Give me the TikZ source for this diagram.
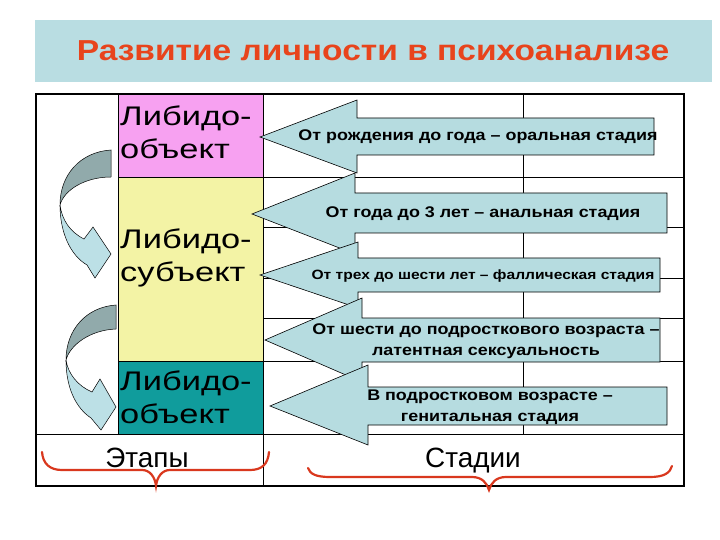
\documentclass[tikz,border=0pt]{standalone}
\usepackage{fontspec}
\setmainfont{Liberation Sans}[FakeStretch=1.16]
\newfontfamily\widefont{Liberation Sans}[FakeStretch=1.28]
\newfontfamily\plainfont{Liberation Sans}
\definecolor{bandblue}{HTML}{B9DDE2}
\definecolor{titlered}{HTML}{E8441C}
\definecolor{cellpink}{HTML}{F7A1F1}
\definecolor{cellyellow}{HTML}{F3F3A5}
\definecolor{cellteal}{HTML}{109C9C}
\definecolor{arrowblue}{HTML}{B6DCE0}
\definecolor{curvedark}{HTML}{91AAAB}
\definecolor{curvelight}{HTML}{BCE0E6}
\definecolor{bracered}{HTML}{D9381E}
\tikzset{
  stage/.style={draw, fill=arrowblue, line width=0.6bp},
  stagetext/.style={font=\bfseries\fontsize{15.5}{21}\selectfont, align=center, inner sep=0pt},
  libido/.style={font=\widefont\fontsize{27}{33}\selectfont, align=left, anchor=west, inner sep=0pt},
  bottomtext/.style={font=\plainfont\fontsize{28}{32}\selectfont, anchor=base, inner sep=0pt},
  grid/.style={draw, line width=0.6bp},
  curve/.style={draw, line width=0.5bp},
  brace/.style={draw=bracered, line width=2.2bp, line cap=round}
}
\begin{document}
\begin{tikzpicture}[x=1bp, y=-1bp]
\useasboundingbox (0,0) rectangle (720,540);
\fill[bandblue] (35,20) rectangle (712,82);
\node[text=titlered, font=\bfseries\fontsize{29}{32}\selectfont] (title) at (373,51) {Развитие личности в психоанализе};

\fill[cellpink] (118,94) rectangle (263,177);
\fill[cellyellow] (118,177) rectangle (263,361);
\fill[cellteal] (118,361) rectangle (263,434);

\path[grid] (118,94) -- (118,434);
\path[grid] (263,94) -- (263,486);
\path[grid] (523,94) -- (523,434);
\path[grid] (118,177) -- (684,177);
\path[grid] (263,227) -- (684,227);
\path[grid] (263,278) -- (684,278);
\path[grid] (263,318) -- (684,318);
\path[grid] (118,361) -- (684,361);
\path[grid] (36,434) -- (684,434);
\path[draw, line width=1.6bp] (36,94) rectangle (684,486);

\node[libido] (obj1) at (120,132) {Либидо-\\объект};
\node[libido] (subj) at (120,258) {Либидо-\\субъект};
\node[libido] (obj2) at (120,397) {Либидо-\\объект};

\path[curve, fill=curvedark] (111,150) .. controls (80,152) and (60,175) .. (60,205) .. controls (64,190) and (85,177) .. (111,177) -- cycle;
\path[curve, fill=curvelight] (60,205) .. controls (60,232) and (70,255) .. (87,265) -- (95,278) -- (111,254) -- (93,227) -- (84,239) .. controls (70,232) and (62,220) .. (60,205) -- cycle;
\path[curve, fill=curvedark] (116,305) .. controls (86,307) and (66,330) .. (66,360) .. controls (70,345) and (90,330) .. (116,329) -- cycle;
\path[curve, fill=curvelight] (66,360) .. controls (66,388) and (76,408) .. (91,418) -- (101,430) -- (116,407) -- (100,379) -- (92,392) .. controls (78,386) and (68,374) .. (66,360) -- cycle;

\path[stage] (260,137) -- (357,100) -- (357,118) -- (654,118) -- (654,155) -- (357,155) -- (357,173) -- cycle;
\path[stage] (252,214) -- (355,173) -- (355,193) -- (667,193) -- (667,233) -- (355,233) -- (355,254) -- cycle;
\path[stage] (260,275) -- (358,242) -- (358,258) -- (660,258) -- (660,292) -- (358,292) -- (358,308) -- cycle;
\path[stage] (265,340) -- (362,298) -- (362,318) -- (660,318) -- (660,362) -- (362,362) -- (362,382) -- cycle;
\path[stage] (270,406) -- (368,365) -- (368,387) -- (667,387) -- (667,425) -- (368,425) -- (368,445) -- cycle;

\node[stagetext] (oral) at (478,137) {От рождения до года – оральная стадия};
\node[stagetext] (anal) at (483,214) {От года до 3 лет – анальная стадия};
\node[stagetext, font=\bfseries\fontsize{13.5}{16}\selectfont] (phallic) at (483,276) {От трех до шести лет – фаллическая стадия};
\node[stagetext] (latent) at (486,341) {От шести до подросткового возраста –\\латентная сексуальность};
\node[stagetext] (genital) at (490,407) {В подростковом возрасте –\\генитальная стадия};

\node[bottomtext] (etapy) at (147,467) {Этапы};
\node[bottomtext] (stadii) at (473,467) {Стадии};

\path[brace] (42,452) .. controls (43,464) and (50,470) .. (62,470) -- (142,470) .. controls (150,470) and (155,477) .. (156,486) .. controls (157,477) and (162,470) .. (170,470) -- (250,470) .. controls (262,470) and (268,464) .. (269,452);
\path[brace] (308,468) .. controls (310,474) and (316,477) .. (330,477) -- (472,477) .. controls (482,477) and (487,483) .. (489,490) .. controls (491,483) and (496,477) .. (506,477) -- (650,477) .. controls (664,477) and (670,473) .. (672,466);
\end{tikzpicture}
\end{document}
